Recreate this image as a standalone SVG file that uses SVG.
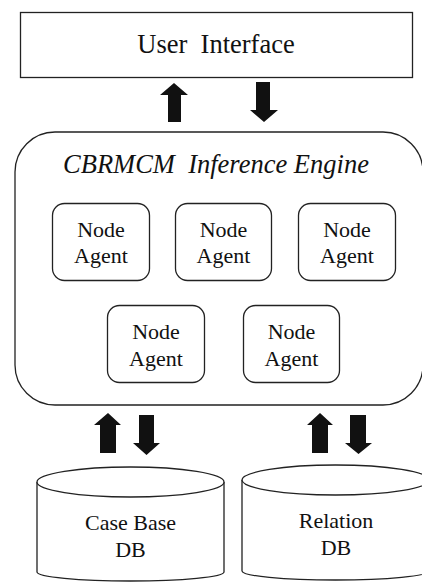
<svg xmlns="http://www.w3.org/2000/svg" width="422" height="582" viewBox="0 0 422 582">
<style>
.box{fill:#fff;stroke:#222;stroke-width:1.3}
text{font-family:'Liberation Serif', 'DejaVu Serif', serif;fill:#111;text-anchor:middle}
.n{font-size:22px}
.arr{fill:#111}
</style>
<rect width="422" height="582" fill="#fff"/>
<g id="user-interface">
<rect class="box" x="20.5" y="12.5" width="392" height="65"/>
<text x="216" y="53" font-size="26.5" xml:space="preserve">User  Interface</text>
</g>
<g id="inference-engine">
<rect class="box" x="15" y="132" width="408" height="273" rx="40" ry="40"/>
<text x="216" y="173" font-size="26.5" font-style="italic" xml:space="preserve">CBRMCM  Inference Engine</text>
</g>
<g id="agent1"><rect class="box" x="52.5" y="203.5" width="97" height="77" rx="12"/><text class="n" x="101" y="237">Node</text><text class="n" x="101" y="263">Agent</text></g>
<g id="agent2"><rect class="box" x="175.5" y="203.5" width="96" height="77" rx="12"/><text class="n" x="223.5" y="237">Node</text><text class="n" x="223.5" y="263">Agent</text></g>
<g id="agent3"><rect class="box" x="298.5" y="203.5" width="97" height="77" rx="12"/><text class="n" x="347" y="237">Node</text><text class="n" x="347" y="263">Agent</text></g>
<g id="agent4"><rect class="box" x="107.5" y="305.5" width="97" height="77" rx="12"/><text class="n" x="156" y="339">Node</text><text class="n" x="156" y="366">Agent</text></g>
<g id="agent5"><rect class="box" x="243.5" y="305.5" width="96" height="77" rx="12"/><text class="n" x="291.5" y="339">Node</text><text class="n" x="291.5" y="366">Agent</text></g>
<g id="case-base-db">
<path class="box" d="M37,482 L37,572 A93.5,9 0 0 0 224,572 L224,482"/>
<ellipse class="box" cx="130.5" cy="482" rx="93.5" ry="15"/>
<text class="n" x="130.5" y="530">Case Base</text>
<text class="n" x="130.5" y="557">DB</text>
</g>
<g id="relation-db">
<path class="box" d="M242,480 L242,571 A93.5,9 0 0 0 429,571 L429,480"/>
<ellipse class="box" cx="335.5" cy="480" rx="93.5" ry="15"/>
<text class="n" x="336" y="528">Relation</text>
<text class="n" x="336" y="555">DB</text>
</g>
<g id="connectors">
<polygon class="arr" points="174,83 188,95 181,95 181,122 168,122 168,95 160,95"/>
<polygon class="arr" points="256,82 270,82 270,110 278,110 264,122 250,110 256,110"/>
<polygon class="arr" points="108,413 121,425 116,425 116,453 100,453 100,425 94,425"/>
<polygon class="arr" points="139,415 154,415 154,443 160,443 146.5,455 133,443 139,443"/>
<polygon class="arr" points="320,413 333,425 328,425 328,453 312,453 312,425 307,425"/>
<polygon class="arr" points="350,415 366,415 366,443 372,443 358.5,454 345,443 350,443"/>
</g>
</svg>
